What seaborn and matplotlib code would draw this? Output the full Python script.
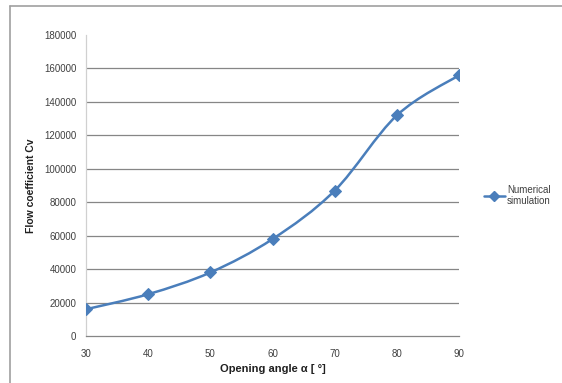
# flow coefficient vs opening angle, excel-style smoothed line chart

import matplotlib
matplotlib.use("Agg")
import matplotlib.pyplot as plt
from matplotlib.path import Path
from matplotlib.patches import PathPatch
from matplotlib.lines import Line2D
import seaborn as sns
import pandas as pd
import numpy as np

angles = [30, 40, 50, 60, 70, 80, 90]
cv_values = [16000, 25000, 38000, 58000, 87000, 132000, 156000]
y_ticks = list(range(0, 180001, 20000))
x_ticks = angles

LINE_COLOR = "#4a7ebb"
GRID_COLOR = "#868686"

df = pd.DataFrame({"angle": angles, "cv": cv_values})

sns.set_theme(style="white")
plt.rcParams["font.family"] = ["Liberation Sans", "DejaVu Sans"]

fig = plt.figure(figsize=(5.62, 3.83), dpi=100)
ax = fig.add_axes([0.153, 0.1227, 0.664, 0.7859])

# chart-area frame (only left/top visible in the crop)
fig.add_artist(Line2D([10 / 562, 10 / 562], [0, 1 - 6 / 383], transform=fig.transFigure,
                      color="#a0a0a0", lw=1.2))
fig.add_artist(Line2D([10 / 562, 1], [1 - 6 / 383, 1 - 6 / 383], transform=fig.transFigure,
                      color="#a0a0a0", lw=1.2))

# smoothed curve like excel (bezier through the points, tension 1/6)
pts = np.column_stack([df["angle"], df["cv"]]).astype(float)
verts = [pts[0]]
codes = [Path.MOVETO]
n = len(pts)
for i in range(n - 1):
    p0 = pts[i - 1] if i > 0 else pts[i]
    p1 = pts[i]
    p2 = pts[i + 1]
    p3 = pts[i + 2] if i + 2 < n else pts[i + 1]
    c1 = p1 + (p2 - p0) / 6
    c2 = p2 - (p3 - p1) / 6
    verts += [c1, c2, p2]
    codes += [Path.CURVE4] * 3
ax.add_patch(PathPatch(Path(verts, codes), facecolor="none", edgecolor=LINE_COLOR, lw=1.8, zorder=3))

sns.lineplot(data=df, x="angle", y="cv", ax=ax, linestyle="none", marker="D",
             markersize=6, color=LINE_COLOR, markeredgecolor=LINE_COLOR, zorder=4)

ax.set_xlim(30, 90)
ax.set_ylim(0, 180000)
ax.set_xticks(x_ticks)
ax.set_yticks(y_ticks)
for yv in y_ticks[1:-1]:
    ax.axhline(yv, color=GRID_COLOR, lw=0.9, zorder=1)

for s in ["top", "right"]:
    ax.spines[s].set_visible(False)
ax.spines["left"].set_color("#d0d0d0")
ax.spines["bottom"].set_color(GRID_COLOR)
ax.spines["left"].set_linewidth(0.9)
ax.spines["bottom"].set_linewidth(0.9)

ax.tick_params(axis="both", which="major", length=4, width=0.8, color="#b0b0b0",
               labelsize=7, labelcolor="#404040", direction="out", pad=3)
ax.tick_params(axis="x", pad=5)

ax.set_xlabel("Opening angle α [ °]", fontsize=8, fontweight="bold", color="#202020", labelpad=4)
ax.set_ylabel("Flow coefficient Cv", fontsize=7.5, fontweight="bold", color="#202020", labelpad=6)

handle = Line2D([], [], color=LINE_COLOR, lw=1.8, marker="D", markersize=5)
fig.legend([handle], ["Numerical\nsimulation"], loc="center left",
           bbox_to_anchor=(0.845, 0.49), frameon=False, fontsize=7,
           handlelength=2.2, handletextpad=0.2, labelcolor="#404040")

fig.savefig("out.png", dpi=100)
